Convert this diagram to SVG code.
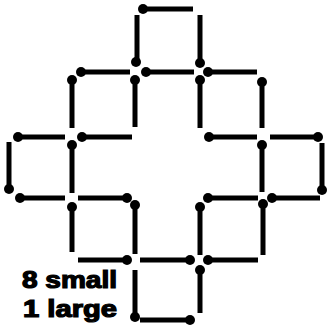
<svg xmlns="http://www.w3.org/2000/svg" width="327" height="335" viewBox="0 0 327 335">
<style>
.m line{stroke:#000;stroke-width:5;stroke-linecap:butt}
.m circle{fill:#000}
.t{font-family:"Liberation Sans",Arial,sans-serif;font-weight:bold;font-size:23px;fill:#000;stroke:#000;stroke-width:1.2}
</style>
<rect width="327" height="335" fill="#fff"/>
<g id="matches" class="m">
<g id="m1"><line x1="193" y1="9" x2="143" y2="9"/><circle cx="143" cy="9" r="5"/></g>
<g id="m2"><line x1="137" y1="15" x2="137" y2="62"/><circle cx="136" cy="62" r="5"/></g>
<g id="m3"><line x1="200" y1="15" x2="200" y2="63"/><circle cx="200" cy="63" r="5"/></g>
<g id="m4"><line x1="194" y1="72" x2="146" y2="72"/><circle cx="146" cy="72" r="5"/></g>
<g id="m5"><line x1="130" y1="72" x2="81" y2="72"/><circle cx="81" cy="72" r="5"/></g>
<g id="m6"><line x1="257" y1="72" x2="208" y2="72"/><circle cx="208" cy="72" r="5"/></g>
<g id="m7"><line x1="72" y1="128" x2="72" y2="80"/><circle cx="72" cy="80" r="5"/></g>
<g id="m8"><line x1="135" y1="127" x2="135" y2="80"/><circle cx="135" cy="80" r="5"/></g>
<g id="m9"><line x1="200" y1="128" x2="200" y2="80"/><circle cx="200" cy="80" r="5"/></g>
<g id="m10"><line x1="262" y1="128" x2="262" y2="82"/><circle cx="262" cy="82" r="5"/></g>
<g id="m11"><line x1="65" y1="137" x2="18" y2="137"/><circle cx="18" cy="137" r="5"/></g>
<g id="m12"><line x1="132" y1="137" x2="82" y2="137"/><circle cx="82" cy="137" r="5"/></g>
<g id="m13"><line x1="257" y1="137" x2="209" y2="137"/><circle cx="209" cy="137" r="5"/></g>
<g id="m14"><line x1="270" y1="137" x2="318" y2="137"/><circle cx="318" cy="137" r="5"/></g>
<g id="m15"><line x1="9" y1="142" x2="9" y2="189"/><circle cx="9" cy="189" r="5"/></g>
<g id="m16"><line x1="72" y1="193" x2="72" y2="145"/><circle cx="72" cy="145" r="5"/></g>
<g id="m17"><line x1="262" y1="192" x2="262" y2="145"/><circle cx="262" cy="145" r="5"/></g>
<g id="m18"><line x1="322" y1="143" x2="322" y2="190"/><circle cx="322" cy="190" r="5"/></g>
<g id="m19"><line x1="65" y1="198" x2="20" y2="198"/><circle cx="20" cy="198" r="5"/></g>
<g id="m20"><line x1="78" y1="198" x2="127" y2="198"/><circle cx="127" cy="198" r="5"/></g>
<g id="m21"><line x1="258" y1="198" x2="208" y2="198"/><circle cx="208" cy="198" r="5"/></g>
<g id="m22"><line x1="320" y1="198" x2="272" y2="198"/><circle cx="272" cy="198" r="5"/></g>
<g id="m23"><line x1="72" y1="252" x2="72" y2="207"/><circle cx="72" cy="207" r="5"/></g>
<g id="m24"><line x1="135" y1="254" x2="135" y2="205"/><circle cx="135" cy="205" r="5"/></g>
<g id="m25"><line x1="200" y1="255" x2="200" y2="207"/><circle cx="200" cy="207" r="5"/></g>
<g id="m26"><line x1="263" y1="255" x2="263" y2="204"/><circle cx="263" cy="204" r="5"/></g>
<g id="m27"><line x1="78" y1="260" x2="127" y2="260"/><circle cx="127" cy="260" r="5"/></g>
<g id="m28"><line x1="140" y1="260" x2="190" y2="260"/><circle cx="190" cy="260" r="5"/></g>
<g id="m29"><line x1="258" y1="260" x2="208" y2="260"/><circle cx="208" cy="260" r="5"/></g>
<g id="m30"><line x1="135" y1="270" x2="135" y2="317"/><circle cx="135" cy="317" r="5"/></g>
<g id="m31"><line x1="200" y1="313" x2="200" y2="270"/><circle cx="200" cy="270" r="5"/></g>
<g id="m32"><line x1="140" y1="320" x2="190" y2="320"/><circle cx="190" cy="320" r="5"/></g>
</g>
<g id="labels">
<text class="t" x="22" y="288" textLength="95" lengthAdjust="spacingAndGlyphs">8 small</text>
<text class="t" x="23" y="317" textLength="94" lengthAdjust="spacingAndGlyphs">1 large</text>
</g>
</svg>
